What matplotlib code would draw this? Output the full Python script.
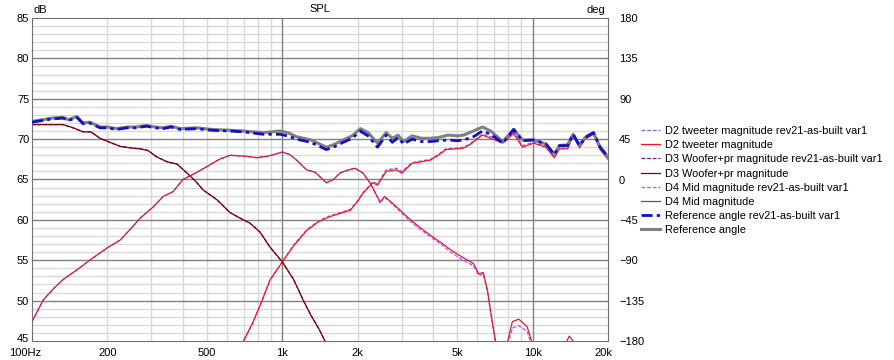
import matplotlib
matplotlib.use('Agg')
import matplotlib.pyplot as plt
from matplotlib.transforms import ScaledTranslation
import numpy as np

plt.rcParams['font.family'] = ['Liberation Sans', 'DejaVu Sans']

# ---- data (Hz, dB) ----
ref_freq = [100, 110, 120, 133, 140, 151, 160, 170, 187, 200, 218, 240, 260, 287, 310,
            334, 360, 390, 456, 520, 618, 700, 838, 978, 1050, 1140, 1300, 1500, 1600,
            1750, 1900, 2050, 2200, 2400, 2600, 2750, 2900, 3050, 3300, 3600, 3900, 4200,
            4600, 5000, 5300, 5800, 6300, 6800, 7600, 8400, 9100, 10100, 11300, 12200,
            12800, 13800, 14500, 15400, 16200, 17500, 18600, 20000]
ref_db = [72.2, 72.4, 72.6, 72.7, 72.4, 72.8, 72.0, 72.1, 71.5, 71.5, 71.3, 71.5, 71.5, 71.7,
          71.5, 71.4, 71.6, 71.3, 71.4, 71.2, 71.1, 71.0, 70.8, 71.0, 70.8, 70.3, 69.9, 69.0,
          69.3, 69.9, 70.4, 71.3, 70.8, 69.5, 70.8, 70.1, 70.5, 69.7, 70.4, 70.1, 70.1, 70.2,
          70.5, 70.4, 70.5, 71.0, 71.5, 71.0, 69.7, 71.2, 69.9, 69.9, 69.4, 68.1, 69.2, 69.3,
          70.6, 69.2, 70.2, 70.8, 69.0, 67.8]
ref21_db = [72.1, 72.3, 72.5, 72.6, 72.3, 72.7, 71.9, 72.0, 71.4, 71.4, 71.2, 71.4, 71.4, 71.6,
            71.4, 71.3, 71.5, 71.2, 71.3, 71.1, 71.0, 70.9, 70.6, 70.6, 70.4, 70.0, 69.6, 68.7,
            69.0, 69.6, 70.1, 71.0, 70.4, 69.0, 70.5, 69.6, 70.2, 69.4, 70.0, 69.7, 69.7, 69.8,
            69.9, 69.8, 69.9, 70.3, 71.0, 70.6, 69.5, 71.2, 69.8, 69.9, 69.4, 68.1, 69.2, 69.2,
            70.6, 69.2, 70.2, 70.8, 69.0, 67.8]

tw_freq = [600, 700, 760, 820, 894, 1000, 1110, 1253, 1400, 1550, 1700, 1870, 2000, 2100,
           2300, 2400, 2600, 2850, 3000, 3300, 3600, 3900, 4200, 4500, 5000, 5300, 5600,
           6300, 6800, 7600, 8400, 9100, 10100, 11300, 12200, 12800, 13800, 14500, 15400,
           16200, 17500, 18600, 20000]
tw_db = [40.0, 45.0, 47.2, 49.6, 52.6, 54.8, 56.8, 58.7, 59.8, 60.4, 60.8, 61.2, 62.3, 63.3,
         64.6, 64.3, 66.0, 66.2, 65.8, 67.0, 67.2, 67.4, 68.0, 68.7, 68.8, 68.9, 69.3,
         70.5, 70.1, 69.5, 70.7, 69.0, 69.5, 69.0, 67.7, 68.8, 68.8, 70.4, 68.9,
         70.0, 70.6, 68.7, 67.5]
tw21_db = [40.0, 45.0, 47.2, 49.6, 52.6, 54.8, 56.9, 58.8, 59.9, 60.5, 60.9, 61.3, 62.4, 63.4,
           64.7, 64.5, 66.2, 66.4, 66.0, 67.1, 67.3, 67.5, 68.1, 68.8, 68.9, 69.0, 69.4,
           70.6, 70.3, 69.7, 70.9, 69.2, 69.6, 69.1, 67.8, 68.9, 68.9, 70.5, 69.0,
           70.1, 70.7, 68.8, 67.6]

wf_freq = [100, 120, 133, 146, 160, 172, 187, 205, 225, 250, 270, 290, 315, 346, 380, 416,
           450, 483, 548, 618, 680, 742, 814, 894, 1000, 1110, 1210, 1300, 1400, 1480, 1600]
wf_db = [71.8, 71.8, 71.8, 71.4, 70.9, 70.9, 70.1, 69.6, 69.1, 68.9, 68.8, 68.6, 67.8, 67.2,
         66.9, 65.8, 64.8, 63.7, 62.5, 60.9, 60.2, 59.6, 58.5, 56.6, 54.8, 52.6, 50.1, 48.2,
         46.5, 45.0, 43.0]
wf21_db = [71.8, 71.8, 71.8, 71.4, 70.9, 70.9, 70.1, 69.6, 69.1, 68.9, 68.8, 68.6, 67.8, 67.2,
           66.9, 65.8, 64.8, 63.7, 62.5, 60.9, 60.2, 59.6, 58.5, 56.6, 54.8, 52.6, 50.1, 48.2,
           46.5, 45.0, 43.0]

mid_freq = [100, 111, 122, 133, 151, 170, 199, 225, 253, 270, 305, 334, 366, 401, 450, 500,
            560, 618, 700, 790, 880, 1000, 1070, 1140, 1250, 1350, 1430, 1500, 1600, 1700,
            1800, 1950, 2100, 2250, 2460, 2560, 2700, 2960, 3200, 3500, 3900, 4300, 4700,
            5100, 5500, 5800, 6100, 6350, 6600, 6850, 7100, 7400, 7800, 7950, 8300, 8800,
            9500, 9900, 10300, 13000, 13700, 14000, 14500, 15000]
mid_db = [47.4, 50.1, 51.5, 52.6, 53.8, 55.0, 56.5, 57.5, 59.2, 60.2, 61.6, 62.9, 63.5, 65.0,
          65.8, 66.6, 67.5, 68.0, 67.9, 67.7, 67.9, 68.4, 68.1, 67.4, 66.2, 65.9, 65.2, 64.6,
          65.0, 65.8, 66.1, 66.4, 65.8, 64.5, 62.2, 62.9, 62.3, 61.2, 60.2, 59.2, 58.1, 57.2,
          56.3, 55.6, 55.0, 54.6, 53.3, 53.5, 51.3, 48.0, 45.0, 42.0, 42.0, 45.0, 47.4, 47.7,
          46.8, 45.0, 42.0, 42.0, 45.0, 45.6, 45.0, 42.0]
mid21_db = [47.4, 50.1, 51.5, 52.6, 53.8, 55.0, 56.5, 57.5, 59.2, 60.2, 61.6, 62.9, 63.5, 65.0,
            65.8, 66.6, 67.5, 68.0, 67.9, 67.7, 67.9, 68.4, 68.1, 67.4, 66.2, 65.9, 65.2, 64.6,
            65.0, 65.8, 66.1, 66.4, 65.8, 64.5, 62.1, 62.8, 62.2, 61.0, 60.0, 59.0, 57.9, 57.0,
            56.0, 55.3, 54.7, 54.3, 53.1, 53.3, 51.0, 47.8, 44.8, 42.0, 42.0, 44.5, 46.6, 46.9,
            46.2, 44.5, 42.0, 42.0, 44.5, 45.0, 44.5, 42.0]

x_ticks = [100, 200, 500, 1000, 2000, 5000, 10000, 20000]
x_labels = ['100Hz', '200', '500', '1k', '2k', '5k', '10k', '20k']
db_ticks = [45, 50, 55, 60, 65, 70, 75, 80, 85]
deg_ticks = [-180, -135, -90, -45, 0, 45, 90, 135, 180]

fig = plt.figure(figsize=(8.95, 3.6), dpi=100)
ax = fig.add_axes([32 / 895, 19 / 360, 576 / 895, 323 / 360])

ax.set_xscale('log')
ax.set_xlim(100, 20000)
ax.set_ylim(45, 85)

# grid
minor_x = [f * d for d in (100, 1000, 10000) for f in range(2, 10) if f * d < 20000]
for f in minor_x:
    ax.axvline(f, color='#d9d9d9', lw=1, zorder=0)
for v in range(46, 85):
    if v % 5:
        ax.axhline(v, color='#d9d9d9', lw=1, zorder=0)
for v in (50, 55, 60, 65, 70, 75, 80):
    ax.axhline(v, color='#808080', lw=1, zorder=0.5)
for f in (1000, 10000):
    ax.axvline(f, color='#808080', lw=1, zorder=0.5)

dash = (0, (3, 1.5))
ax.plot(tw_freq, tw21_db, color='#8a5cf0', lw=0.9, ls=dash, label='D2 tweeter magnitude rev21-as-built var1')
ax.plot(tw_freq, tw_db, color='#ff1020', lw=0.9, label='D2 tweeter magnitude')
ax.plot(wf_freq, wf21_db, color='#7a1a7a', lw=0.9, ls=dash, label='D3 Woofer+pr magnitude rev21-as-built var1')
ax.plot(wf_freq, wf_db, color='#800000', lw=0.9, label='D3 Woofer+pr magnitude')
ax.plot(mid_freq, mid21_db, color='#ff30ff', lw=0.9, ls=dash, label='D4 Mid magnitude rev21-as-built var1')
ax.plot(mid_freq, mid_db, color='#c0283c', lw=0.9, label='D4 Mid magnitude')
ax.plot(ref_freq, ref_db, color='#808080', lw=2.2, label='Reference angle', zorder=3)
ax.plot(ref_freq, ref21_db, color='#1010d0', lw=2.0, ls=(0, (4, 1.5, 1.2, 1.5)),
        label='Reference angle rev21-as-built var1', zorder=4)

ax.set_xticks(x_ticks)
ax.set_xticklabels(x_labels)
ax.xaxis.set_minor_locator(matplotlib.ticker.NullLocator())
ax.set_yticks(db_ticks)
ax.tick_params(length=0, labelsize=8, pad=2)
ax.tick_params(axis='x', pad=5)
for s in ax.spines.values():
    s.set_color('#707070')

# nudge the end labels like the original
xl = ax.get_xticklabels()
xl[0].set_transform(xl[0].get_transform() + ScaledTranslation(-7 / 100, 0, fig.dpi_scale_trans))
xl[-1].set_transform(xl[-1].get_transform() + ScaledTranslation(-5 / 100, 0, fig.dpi_scale_trans))
yl = ax.get_yticklabels()
yl[0].set_transform(yl[0].get_transform() + ScaledTranslation(0, 3 / 100, fig.dpi_scale_trans))

ax2 = ax.twinx()
ax2.set_ylim(-180, 180)
ax2.set_yticks(deg_ticks)
ax2.tick_params(length=0, labelsize=8, pad=8)
for s in ax2.spines.values():
    s.set_visible(False)

fig.text(33 / 895, 1 - 10 / 360, 'dB', fontsize=8, va='center', ha='left')
fig.text(605 / 895, 1 - 10 / 360, 'deg', fontsize=8, va='center', ha='right')
fig.text(320 / 895, 1 - 9 / 360, 'SPL', fontsize=8, va='center', ha='center')

h, l = ax.get_legend_handles_labels()
order = [0, 1, 2, 3, 4, 5, 7, 6]
fig.legend([h[i] for i in order], [l[i] for i in order], loc='upper left',
           bbox_to_anchor=(641 / 895, 1 - 126 / 360), frameon=False, fontsize=7.9,
           handlelength=1.75, handletextpad=0.45, labelspacing=0.38, borderpad=0, borderaxespad=0)

fig.savefig('out.png', dpi=100)
